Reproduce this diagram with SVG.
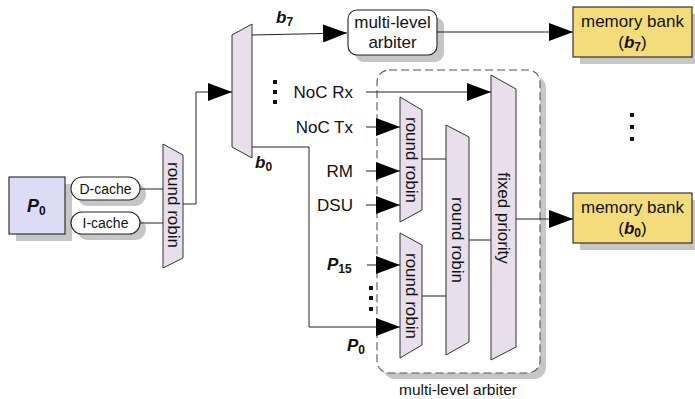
<svg xmlns="http://www.w3.org/2000/svg" width="695" height="399" viewBox="0 0 695 399">
<defs>
<style>
text{font-family:"Liberation Sans",Arial,sans-serif;fill:#111;}
.t16{font-size:17px;}
.t14{font-size:14px;}
.bi{font-weight:bold;font-style:italic;}
.sub{font-style:normal;font-weight:bold;}
.shadow{fill:#c6c6c6;stroke:none;}
.trap{fill:#e9dfec;stroke:#333;stroke-width:1;}
.pill{fill:#fff;stroke:#222;stroke-width:1.1;}
.mem{fill:#f5dc7a;stroke:#222;stroke-width:1.1;}
.proc{fill:#dcdcf6;stroke:#222;stroke-width:1.1;}
.wire{fill:none;stroke:#222;stroke-width:1;}
.arr{marker-end:url(#ah);}
.dot{fill:#111;}
.rot{text-anchor:middle;dominant-baseline:central;}
</style>
<marker id="ah" markerUnits="userSpaceOnUse" markerWidth="24" markerHeight="18" refX="24" refY="9" orient="auto">
<path d="M0,0 L24,9 L0,18 z" fill="#000"/>
</marker>
</defs>
<rect width="695" height="399" fill="#fff"/>

<g id="mla-box">
<rect class="shadow" x="383" y="76" width="163" height="303" rx="12"/>
<rect x="377" y="70" width="163" height="303" rx="12" fill="#fff" stroke="#555" stroke-width="1.1" stroke-dasharray="8,4"/>
<text x="458" y="395" text-anchor="middle" font-size="15.5">multi-level arbiter</text>
</g>

<g id="p0">
<rect class="shadow" x="16" y="184" width="56" height="57"/>
<rect class="proc" x="9" y="177" width="56" height="57"/>
<text class="bi" x="27" y="212" font-size="18">P<tspan class="sub" font-size="12" dy="3">0</tspan></text>
</g>

<g id="dcache">
<rect class="shadow" x="77" y="183" width="69" height="23" rx="11.5"/>
<rect class="pill" x="71" y="177" width="69" height="23" rx="11.5"/>
<text class="t14" x="105.5" y="193.5" text-anchor="middle">D-cache</text>
</g>

<g id="icache">
<rect class="shadow" x="77" y="218" width="69" height="22" rx="11"/>
<rect class="pill" x="71" y="212" width="69" height="22" rx="11"/>
<text class="t14" x="105.5" y="228" text-anchor="middle">I-cache</text>
</g>

<g id="rr-core">
<polygon class="trap" points="163,144 183,155 183,258 163,268"/>
<text class="t16 rot" transform="translate(173,205) rotate(90)">round robin</text>
</g>

<g id="demux">
<polygon class="trap" points="232,35 252,24 252,158 232,147"/>
<text class="bi" x="276" y="23" font-size="17">b<tspan class="sub" font-size="12" dy="3">7</tspan></text>
<text class="bi" x="255" y="168" font-size="17">b<tspan class="sub" font-size="12" dy="3">0</tspan></text>
</g>

<g id="arbiter-b7">
<rect class="shadow" x="355" y="17" width="89" height="45" rx="9"/>
<rect class="pill" x="348" y="10" width="89" height="45" rx="9"/>
<text class="t16" x="392.5" y="28" text-anchor="middle">multi-level</text>
<text class="t16" x="392.5" y="48" text-anchor="middle">arbiter</text>
</g>

<g id="mem-b7">
<rect class="shadow" x="580" y="14" width="119" height="50"/>
<rect class="mem" x="573" y="7" width="119" height="50"/>
<text class="t16" x="632.5" y="27" text-anchor="middle">memory bank</text>
<text class="t16" x="632.5" y="48" text-anchor="middle">(<tspan class="bi">b</tspan><tspan class="sub" font-size="12" dy="3">7</tspan><tspan dy="-3">)</tspan></text>
</g>

<g id="mem-b0">
<rect class="shadow" x="580" y="200" width="119" height="50"/>
<rect class="mem" x="573" y="193" width="119" height="50"/>
<text class="t16" x="632.5" y="213" text-anchor="middle">memory bank</text>
<text class="t16" x="632.5" y="234" text-anchor="middle">(<tspan class="bi">b</tspan><tspan class="sub" font-size="12" dy="3">0</tspan><tspan dy="-3">)</tspan></text>
</g>

<g id="rr-a">
<polygon class="trap" points="400,97 422,110 422,210 400,222"/>
<text class="t16 rot" transform="translate(411,160) rotate(90)">round robin</text>
</g>

<g id="rr-b">
<polygon class="trap" points="400,233 422,245 422,345 400,358"/>
<text class="t16 rot" transform="translate(411,296) rotate(90)">round robin</text>
</g>

<g id="rr-mid">
<polygon class="trap" points="446,125 469,137 469,342 446,355"/>
<text class="t16 rot" transform="translate(457.5,240) rotate(90)">round robin</text>
</g>

<g id="fixed">
<polygon class="trap" points="491,75 516,89 516,347 491,360"/>
<text class="t16 rot" transform="translate(503.5,218) rotate(90)">fixed priority</text>
</g>

<g id="labels">
<text class="t16" x="353" y="98" text-anchor="end">NoC Rx</text>
<text class="t16" x="353" y="133" text-anchor="end">NoC Tx</text>
<text class="t16" x="353" y="177" text-anchor="end">RM</text>
<text class="t16" x="353" y="211" text-anchor="end">DSU</text>
<text class="bi" x="327" y="270" font-size="17">P<tspan class="sub" font-size="12" dy="3">15</tspan></text>
<text class="bi" x="347" y="351" font-size="17">P<tspan class="sub" font-size="12" dy="3">0</tspan></text>
</g>

<g id="dots">
<rect class="dot" x="273" y="80" width="4" height="4"/>
<rect class="dot" x="273" y="90" width="4" height="4"/>
<rect class="dot" x="273" y="100" width="4" height="4"/>
<rect class="dot" x="369" y="286" width="4" height="4"/>
<rect class="dot" x="369" y="296" width="4" height="4"/>
<rect class="dot" x="369" y="307" width="4" height="4"/>
<rect class="dot" x="630" y="113" width="4" height="4"/>
<rect class="dot" x="630" y="125" width="4" height="4"/>
<rect class="dot" x="630" y="137" width="4" height="4"/>
</g>

<g id="connectors">
<path class="wire" d="M140,189 H163"/>
<path class="wire" d="M140,223 H163"/>
<path class="wire arr" d="M183,204 H196 V92 H232"/>
<path class="wire arr" d="M252,35 L347,33"/>
<path class="wire arr" d="M437,32 H573"/>
<path class="wire arr" d="M252,147 H309 V327 H400"/>
<path class="wire arr" d="M366,92 H491"/>
<path class="wire arr" d="M366,127 H400"/>
<path class="wire arr" d="M366,171 H400"/>
<path class="wire arr" d="M366,205 H400"/>
<path class="wire arr" d="M367,265 H400"/>
<path class="wire" d="M422,159 H446"/>
<path class="wire" d="M422,296 H446"/>
<path class="wire" d="M469,240 H491"/>
<path class="wire arr" d="M516,219 H573"/>
</g>
</svg>
